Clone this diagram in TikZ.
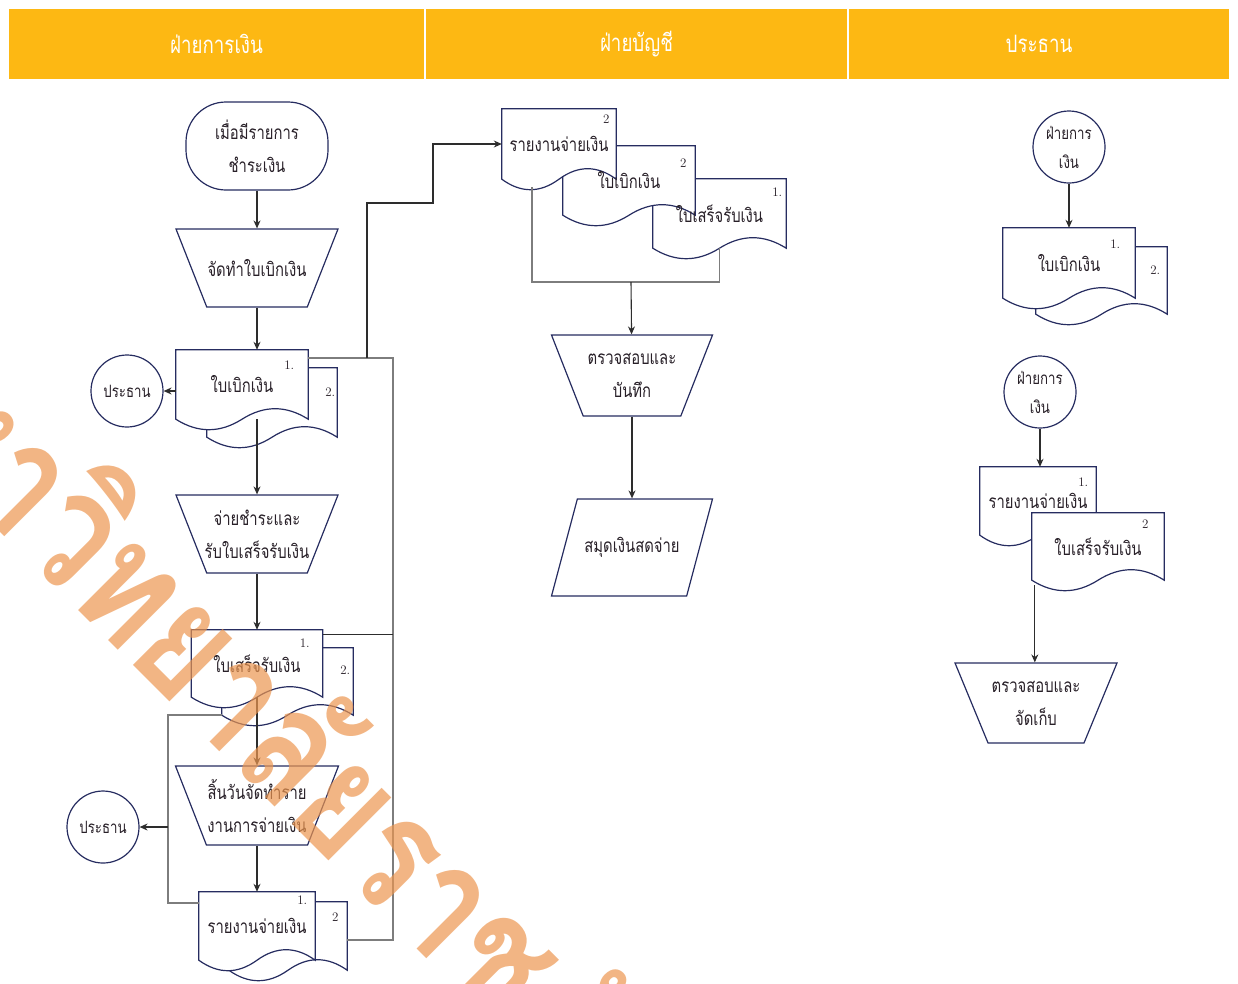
\documentclass[tikz,border=0pt]{standalone}
\usepackage{fontspec}
\usepackage{tikz}
\usetikzlibrary{shapes,arrows,arrows.meta,backgrounds,calc,positioning}
\newfontfamily\thaifont[Script=Thai,FakeStretch=0.78]{Loma}
\newfontfamily\markfont[Script=Thai,FakeStretch=0.8]{Loma}
\definecolor{edge}{RGB}{38,44,96}
\definecolor{ink}{RGB}{40,32,40}
\definecolor{wire}{RGB}{45,45,45}
\definecolor{bus}{RGB}{125,125,125}
\definecolor{lanefill}{RGB}{253,184,19}
\definecolor{wmark}{RGB}{236,150,80}
\tikzstyle{txt}=[font=\thaifont\fontsize{19}{33}\selectfont, text=ink, align=center]
\tikzstyle{small}=[font=\thaifont\fontsize{17}{29}\selectfont, text=ink, align=center]
\tikzstyle{num}=[font=\fontsize{13}{13}\selectfont, text=ink, inner sep=0pt]
\tikzstyle{doc}=[txt, rectangle, inner sep=0pt]
\tikzstyle{docline}=[draw=edge, line width=1.2pt, fill=white]
\tikzstyle{manual}=[shape=trapezium, draw=edge, line width=1.2pt, fill=white,
  trapezium stretches, trapezium left angle=107, trapezium right angle=107,
  minimum width=162pt, minimum height=78pt, inner sep=2pt]
\tikzstyle{term}=[rectangle, rounded corners=40pt, draw=edge, line width=1.2pt,
  fill=white, minimum width=142pt, minimum height=88pt, inner sep=0pt, txt]
\tikzstyle{conn}=[circle, draw=edge, line width=1.2pt, fill=white,
  minimum size=72pt, inner sep=0pt, small]
\tikzstyle{flow}=[draw=wire, line width=1.1pt, -{Stealth[length=8pt,width=7pt]}]
\tikzstyle{link}=[draw=bus, line width=1.8pt]
\tikzstyle{lane}=[rectangle, fill=lanefill, draw=white, line width=1.5pt,
  minimum height=72pt, inner sep=0pt, text=white,
  font=\thaifont\fontsize{24}{24}\selectfont]
% document outline with wavy bottom, behind the texts
\newcommand{\docshape}[4]{%
  \begin{scope}[on background layer]
    \draw[docline] (#1.north west) -- (#1.north east) -- (#1.south east)
      .. controls ($(#1.south east)!1/3!(#1.south)+(0,-14)$) and ($(#1.south)!1/3!(#1.south east)+(0,-14)$) .. (#1.south)
      .. controls ($(#1.south)!1/3!(#1.south west)+(0,14)$) and ($(#1.south west)!1/3!(#1.south)+(0,14)$) .. (#1.south west)
      -- cycle;
  \end{scope}
  \node[num] (#1-no) at ($(#1.north east)+(#3,#4)$) {#2};}

\begin{document}
\begin{tikzpicture}[x=1pt, y=-1pt]
  \useasboundingbox (0,0) rectangle (1238,983);

  % lanes
  \node[lane, minimum width=417pt] (hfin) at (216.5,44) {ฝ่ายการเงิน};
  \node[lane, minimum width=423pt] (hacc) at (636.5,44) {ฝ่ายบัญชี};
  \node[lane, minimum width=382pt] (hpre) at (1039,44) {ประธาน};

  % finance
  \node[term] (start) at (257,146) {เมื่อมีรายการ\\ชำระเงิน};
  \node[manual] (mkreq) at (257,268) {};
  \node[txt] (mkreq-t) at (mkreq) {จัดทำใบเบิกเงิน};
  \node[doc, minimum width=130pt, minimum height=69pt] (req2) at (272,402.5) {};
  \docshape{req2}{2.}{-7}{24}
  \node[doc, minimum width=132pt, minimum height=69pt] (req) at (242,384.5) {ใบเบิกเงิน};
  \docshape{req}{1.}{-19}{15}
  \node[conn] (pres1) at (127,391) {ประธาน};
  \node[manual] (pay) at (257,534) {};
  \node[txt] (pay-t) at (pay) {จ่ายชำระและ\\รับใบเสร็จรับเงิน};
  \node[doc, minimum width=131pt, minimum height=67pt] (rcpt2) at (287.5,681.5) {};
  \docshape{rcpt2}{2.}{-8}{22}
  \node[doc, minimum width=131pt, minimum height=67pt] (rcpt) at (257,663.5) {ใบเสร็จรับเงิน};
  \docshape{rcpt}{1.}{-18}{13}
  \node[manual, minimum width=163pt, minimum height=79pt] (report) at (257,805.5) {};
  \node[txt] (report-t) at (report) {สิ้นวันจัดทำราย\\งานการจ่ายเงิน};
  \node[doc, minimum width=118pt, minimum height=68pt] (rep2) at (288,936) {};
  \docshape{rep2}{2}{-12}{15}
  \node[doc, minimum width=116pt, minimum height=68pt] (rep) at (257,926) {รายงานจ่ายเงิน};
  \docshape{rep}{1.}{-13}{8}
  \node[conn] (pres2) at (103,827) {ประธาน};

  % accounting
  \node[doc, minimum width=133pt, minimum height=69pt] (mrcpt) at (719.5,213.5) {ใบเสร็จรับเงิน};
  \docshape{mrcpt}{1.}{-9}{13}
  \node[doc, minimum width=132pt, minimum height=69pt] (mreq) at (629,180.5) {ใบเบิกเงิน};
  \docshape{mreq}{2}{-12}{17}
  \node[doc, minimum width=114pt, minimum height=70pt] (mrep) at (559,144) {รายงานจ่ายเงิน};
  \docshape{mrep}{2}{-10}{10}
  \node[manual, minimum width=161pt, minimum height=81pt, trapezium left angle=108,
    trapezium right angle=108] (check) at (632,375.5) {};
  \node[txt] (check-t) at (check) {ตรวจสอบและ\\บันทึก};
  \node[manual, minimum width=161pt, minimum height=97pt, trapezium left angle=76.7,
    trapezium right angle=103.3] (book) at (632,547.5) {};
  \node[txt] (book-t) at (book) {สมุดเงินสดจ่าย};

  % president
  \node[conn] (fin1) at (1069,147) {ฝ่ายการ\\เงิน};
  \node[doc, minimum width=131pt, minimum height=67pt] (rreq2) at (1101.5,280.5) {};
  \docshape{rreq2}{2.}{-12}{23}
  \node[doc, minimum width=132pt, minimum height=70pt] (rreq) at (1069,263) {ใบเบิกเงิน};
  \docshape{rreq}{1.}{-20}{16}
  \node[conn] (fin2) at (1040,392) {ฝ่ายการ\\เงิน};
  \node[doc, minimum width=116pt, minimum height=68pt] (rrep) at (1038,501) {รายงานจ่ายเงิน};
  \docshape{rrep}{1.}{-13}{15}
  \node[doc, minimum width=132pt, minimum height=67pt] (rrcpt) at (1098,546.5) {ใบเสร็จรับเงิน};
  \docshape{rrcpt}{2}{-19}{11}
  \node[manual, minimum width=162pt, minimum height=80pt, trapezium left angle=109,
    trapezium right angle=109] (file) at (1036,703) {};
  \node[txt] (file-t) at (file) {ตรวจสอบและ\\จัดเก็บ};

  % connectors
  \draw[flow] (start) -- (mkreq);
  \draw[flow] (mkreq) -- (mkreq |- req.north);
  \draw[flow] (req.west |- pres1) -- (pres1);
  \draw[flow] (req.south -| pay) -- (pay);
  \draw[flow] (pay) -- (rcpt);
  \draw[flow] (rcpt) -- (report);
  \draw[flow] (report) -- (report |- rep.north);
  \coordinate (split) at (367,358);
  \coordinate (busT) at (393,358);
  \coordinate (busM) at (393,634);
  \coordinate (busB) at (393,940);
  \draw[link] (req.north east |- busT) -- (busT) -- (busB) -- (busB -| rep2.east);
  \draw[draw=wire, line width=1pt] (busM -| rcpt.north east) -- (busM);
  \coordinate (step1) at (433,203);
  \draw[flow] (split) |- (step1) |- (mrep.west);
  \coordinate (loop) at (168,827);
  \draw[link] (rcpt2.south west) -| (loop) |- ($(rep.north west)+(0,11)$);
  \draw[flow] (loop) -- (pres2);

  \coordinate (join) at (631,282);
  \draw[link] ($(mrep.south west)+(30,8)$) |- (join) -| (mrcpt.south);
  \draw[flow] (join) -- (check);
  \draw[flow] (check) -- (book);

  \draw[flow] (fin1) -- (rreq);
  \draw[flow] (fin2) -- (fin2 |- rrep.north);
  \coordinate (drop) at ($(rrcpt.south west)+(3,5)$);
  \draw[flow] (drop) -- (drop |- file.north);

  % watermark
  \begin{scope}
    \clip (0,0) rectangle (1238,983);
    \node[rotate=-45, text=wmark, text opacity=.7, inner sep=0pt,
      font=\markfont\bfseries\fontsize{160}{160}\selectfont] (stamp) at (265,728) {มหาวิทยาลัยราชภัฏ};
  \end{scope}
\end{tikzpicture}
\end{document}
